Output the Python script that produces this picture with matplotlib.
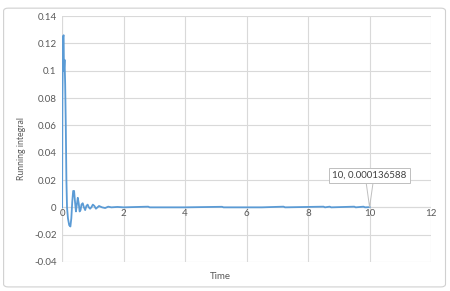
import matplotlib
matplotlib.use('Agg')
import matplotlib.pyplot as plt
from matplotlib.patches import FancyBboxPatch

plt.rcParams['font.family'] = ['Lato', 'DejaVu Sans']

# Running integral
time = [0.00, 0.01, 0.03, 0.05, 0.06, 0.08, 0.10, 0.12, 0.14, 0.16, 0.19, 0.23,
        0.27, 0.30, 0.33, 0.36, 0.39, 0.42, 0.45, 0.48, 0.51, 0.54, 0.57, 0.60,
        0.63, 0.67, 0.71, 0.75, 0.79, 0.83, 0.87, 0.91, 0.95, 1.00, 1.05, 1.10,
        1.15, 1.20, 1.30, 1.40, 1.50, 1.60, 1.80, 2.00, 2.80, 2.85, 2.90, 4.00,
        5.20, 5.25, 6.50, 7.20, 7.25, 8.50, 8.55, 8.70, 8.75, 9.50, 9.55, 9.80,
        9.85, 10.00]
running = [0.0, 0.080, 0.125, 0.126, 0.100, 0.108, 0.090, 0.060, 0.020, 0.0,
           -0.008, -0.013, -0.014, -0.008, 0.004, 0.012, 0.012, 0.004, -0.003,
           0.002, 0.007, 0.003, -0.003, -0.002, 0.002, 0.003, 0.0, -0.002,
           0.001, 0.002, 0.0, -0.001, 0.0, 0.002, 0.001, -0.001, 0.0, 0.001,
           0.0, -0.0005, 0.0005, 0.0, 0.0003, 0.0, 0.0005, 0.0, 0.0, 0.0,
           0.0004, 0.0, 0.0, 0.0005, 0.0, 0.0005, 0.0, 0.0005, 0.0, 0.0005,
           0.0, 0.0005, 0.0, 0.000136588]

x_ticks = [0, 2, 4, 6, 8, 10, 12]
y_ticks = [-0.04, -0.02, 0, 0.02, 0.04, 0.06, 0.08, 0.10, 0.12, 0.14]
y_labels = ['-0.04', '-0.02', '0', '0.02', '0.04', '0.06', '0.08', '0.1', '0.12', '0.14']

fig = plt.figure(figsize=(4.5, 2.91), dpi=100)
ax = fig.add_axes([0.138, 0.0997, 0.82, 0.845])

# chart border
fig.patches.append(FancyBboxPatch((0.008, 0.014), 0.982, 0.958,
                                  boxstyle='round,pad=0,rounding_size=0.01',
                                  transform=fig.transFigure, fc='none',
                                  ec='#d0d0d0', lw=0.8))

ax.plot(time, running, color='#5b9bd5', lw=1.3, zorder=3)

ax.set_xlim(0, 12)
ax.set_ylim(-0.04, 0.14)
ax.set_xticks(x_ticks)
ax.set_yticks(y_ticks)
ax.set_yticklabels(y_labels)
ax.grid(True, color='#d9d9d9', lw=0.8)
for s in ['top', 'right', 'left', 'bottom']:
    ax.spines[s].set_visible(False)
ax.axhline(0, color='#d9d9d9', lw=0.8, zorder=1)
ax.axvline(0, color='#d9d9d9', lw=0.8, zorder=1)
ax.tick_params(length=0, labelsize=7, colors='#595959', pad=4)
# x tick labels sit just under the zero line, as in Excel
ax.set_xticklabels([])
for xt in x_ticks:
    ax.text(xt, -0.0015, str(xt), ha='center', va='top', fontsize=7, color='#595959')

ax.set_xlabel('Time', fontsize=7, color='#595959')
ax.xaxis.set_label_coords(0.428, -0.04)
ax.set_ylabel('Running integral', fontsize=6.3, color='#595959')
ax.yaxis.set_label_coords(-0.097, 0.46)

ax.annotate('10, 0.000136588', xy=(time[-1], running[-1]), xytext=(10.0, 0.0235),
            ha='center', va='center', fontsize=7, color='#404040',
            bbox=dict(boxstyle='square,pad=0.3', fc='white', ec='#bfbfbf', lw=0.7),
            arrowprops=dict(arrowstyle='wedge,tail_width=0.7,shrink_factor=0.5',
                            fc='white', ec='#bfbfbf', lw=0.7, shrinkA=0, shrinkB=0))

fig.savefig('out.png', dpi=100)
